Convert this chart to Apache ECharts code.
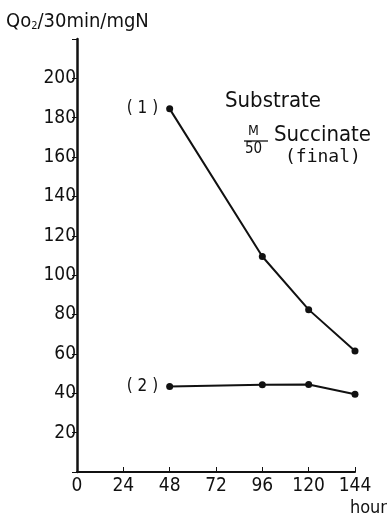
<!DOCTYPE html>
<html>
<head>
<meta charset="utf-8">
<script src="https://cdn.jsdelivr.net/npm/echarts@6/dist/echarts.min.js"></script>
<style>
  html, body { margin: 0; padding: 0; background: #fff; }
  #chart { width: 392px; height: 518px; }
</style>
</head>
<body>
<div id="chart"></div>
<script>
const hours = [48, 96, 120, 144];
const curve1 = [184.5, 109.5, 82.5, 61.5];
const curve2 = [43.5, 44.3, 44.5, 39.5];
const curveNames = ['(1)', '(2)'];
const xTicks = [0, 24, 48, 72, 96, 120, 144];
const yTicks = [20, 40, 60, 80, 100, 120, 140, 160, 180, 200];

const font = '"DejaVu Sans Condensed", "DejaVu Sans", sans-serif';
const mono = '"DejaVu Sans Mono", monospace';
const ink = '#111';

const chart = echarts.init(document.getElementById('chart'));

function makeData(values, name) {
  return values.map((v, i) => {
    const item = { value: [hours[i], v] };
    if (i === 0) {
      item.label = {
        show: true, position: 'left', distance: 8,
        formatter: name.split('').join(' '),
        color: ink, fontSize: 17, fontFamily: font
      };
    }
    return item;
  });
}

const lineSeries = (values, name) => ({
  type: 'line',
  data: makeData(values, name),
  symbol: 'circle',
  symbolSize: 7,
  lineStyle: { color: ink, width: 2 },
  itemStyle: { color: ink },
  label: { show: false },
  animation: false
});

chart.setOption({
  backgroundColor: '#fff',
  grid: { left: 77, right: 37, top: 39, bottom: 46 },
  xAxis: {
    type: 'value', min: 0, max: 144, interval: 24,
    axisLine: { lineStyle: { color: ink, width: 2 } },
    axisTick: { inside: true, length: 5, lineStyle: { color: ink } },
    splitLine: { show: false },
    axisLabel: {
      color: ink, fontSize: 19, fontFamily: font, margin: 5,
      formatter: v => xTicks.includes(v) ? String(v) : ''
    },
    name: 'hour', nameLocation: 'end', nameGap: 0,
    nameTextStyle: { color: ink, fontSize: 18, fontFamily: font, align: 'right', verticalAlign: 'top', padding: [27, -32, 0, 0] }
  },
  yAxis: {
    type: 'value', min: 0, max: 220, interval: 20,
    axisLine: { lineStyle: { color: ink, width: 2.5 } },
    axisTick: { show: true, length: 5, lineStyle: { color: ink } },
    splitLine: { show: false },
    axisLabel: {
      color: ink, fontSize: 19, fontFamily: font, margin: 1,
      formatter: v => yTicks.includes(v) ? String(v) : ''
    }
  },
  series: [lineSeries(curve1, curveNames[0]), lineSeries(curve2, curveNames[1])],
  graphic: [
    {
      type: 'text', left: 6, top: 12,
      style: {
        text: '{a|Qo}{s|2}{a|/30min/mgN}',
        rich: {
          a: { fontSize: 20, fontFamily: font, fill: ink },
          s: { fontSize: 11, fontFamily: font, fill: ink, verticalAlign: 'bottom', padding: [9, 0, 0, 0] }
        }
      }
    },
    { type: 'text', left: 225, top: 90, style: { text: 'Substrate', fontSize: 22, fontFamily: font, fill: ink } },
    { type: 'text', left: 248, top: 124, style: { text: 'M', fontSize: 14, fontFamily: font, fill: ink } },
    { type: 'line', shape: { x1: 244, y1: 141, x2: 268, y2: 141 }, style: { stroke: ink, lineWidth: 1.3 } },
    { type: 'text', left: 245, top: 142, style: { text: '50', fontSize: 15, fontFamily: font, fill: ink } },
    { type: 'text', left: 274, top: 124, style: { text: 'Succinate', fontSize: 22, fontFamily: font, fill: ink } },
    { type: 'text', left: 285, top: 148, style: { text: '(final)', fontSize: 18, fontFamily: mono, fill: ink } }
  ]
});
</script>
</body>
</html>
